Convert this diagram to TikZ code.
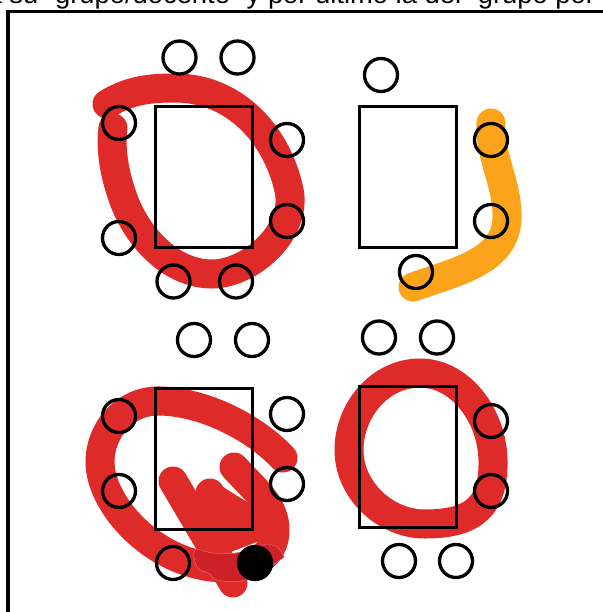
\documentclass[tikz,border=0pt]{standalone}
\usepackage{fontspec}
\setmainfont{Liberation Sans}
\definecolor{trazorojo}{HTML}{DE2A28}
\definecolor{trazooscuro}{HTML}{CE2029}
\definecolor{trazonaranja}{HTML}{FCA31C}
\tikzset{
  silla/.style={draw,circle,line width=.033cm,minimum size=.33cm,inner sep=0pt},
  trazo/.style={line width=.29cm,line cap=round,line join=round},
}
\begin{document}
\begin{tikzpicture}[x=.01cm,y=-.01cm]
\useasboundingbox (0,0) rectangle (603,612);
\node[anchor=base west,inner sep=0pt,font=\fontsize{7.78pt}{9pt}\selectfont] (titulo) at (-14,4) {a su "grupo/docente" y por último la del "grupo por la};
\draw[line width=.03cm] (8,612) -- (8,11.5) -- (603,11.5);
% arriba izquierda
\draw[trazo,trazorojo] (107,104) .. controls (130,90) and (150,88) .. (175,88)
  .. controls (235,88) and (277,135) .. (289,190)
  .. controls (298,232) and (250,274) .. (212,274)
  .. controls (170,274) and (135,235) .. (122,195)
  .. controls (115,175) and (110,150) .. (113,128);
% arriba derecha
\draw[trazo,trazonaranja] (491,123) .. controls (489,155) and (508,185) .. (507,218)
  .. controls (506,262) and (455,272) .. (413,287);
% abajo izquierda
\draw[trazo,trazorojo] (283,458) .. controls (255,428) and (205,402) .. (160,401)
  .. controls (125,400) and (100,430) .. (100,462)
  .. controls (100,505) and (155,567) .. (225,568)
  .. controls (255,568) and (275,555) .. (275,530)
  .. controls (275,505) and (255,490) .. (234,467);
\draw[trazo,trazorojo] (173,481) -- (233,583);
\draw[trazo,trazorojo] (210,493) -- (225,530);
\fill[trazorojo] (198,487) -- (210,480) -- (223,487) -- (247,502) -- (262,502) -- (275,535) -- (210,560) -- cycle;
\filldraw[fill=trazooscuro,draw=trazorojo!70!white,line width=.005cm] plot[smooth cycle,tension=.6] coordinates {(195,550) (197,567) (210,574) (217,580) (245,580) (280,560) (283,555) (277,547) (267,544) (257,547) (237,553) (213,553)};
% abajo derecha
\draw[trazo,trazorojo] (420,373) .. controls (460,373) and (492,415) .. (493,460)
  .. controls (494,505) and (475,524) .. (425,524)
  .. controls (385,524) and (349,490) .. (349,450)
  .. controls (349,410) and (380,373) .. (420,373) -- cycle;
% mesas
\draw[line width=.03cm] (155,106) rectangle (252,247);
\draw[line width=.03cm] (359,106) rectangle (456,247);
\draw[line width=.03cm] (155,388) rectangle (252,529);
\draw[line width=.03cm] (359,386) rectangle (456,527);
% sillas
\node[silla] (a1) at (179.5,57.5) {};
\node[silla] (a2) at (237.5,57.5) {};
\node[silla] (a3) at (119,123) {};
\node[silla] (a4) at (287,140) {};
\node[silla] (a5) at (287,221) {};
\node[silla] (a6) at (119,238) {};
\node[silla] (a7) at (173.5,281.5) {};
\node[silla] (a8) at (236,281.5) {};
\node[silla] (b1) at (381,75) {};
\node[silla] (b2) at (491,140) {};
\node[silla] (b3) at (491,221) {};
\node[silla] (b4) at (416,272) {};
\node[silla] (c1) at (194,340) {};
\node[silla] (c2) at (252,340) {};
\node[silla] (c3) at (119,416) {};
\node[silla] (c4) at (287,414) {};
\node[silla] (c5) at (119,491) {};
\node[silla] (c6) at (287,484) {};
\node[silla] (c7) at (173,563) {};
\node[silla,fill=black] (c8) at (255,563) {};
\node[silla] (d1) at (379,337.5) {};
\node[silla] (d2) at (437,337.5) {};
\node[silla] (d3) at (491,421) {};
\node[silla] (d4) at (491,491) {};
\node[silla] (d5) at (399,561) {};
\node[silla] (d6) at (456,561) {};
\end{tikzpicture}
\end{document}
